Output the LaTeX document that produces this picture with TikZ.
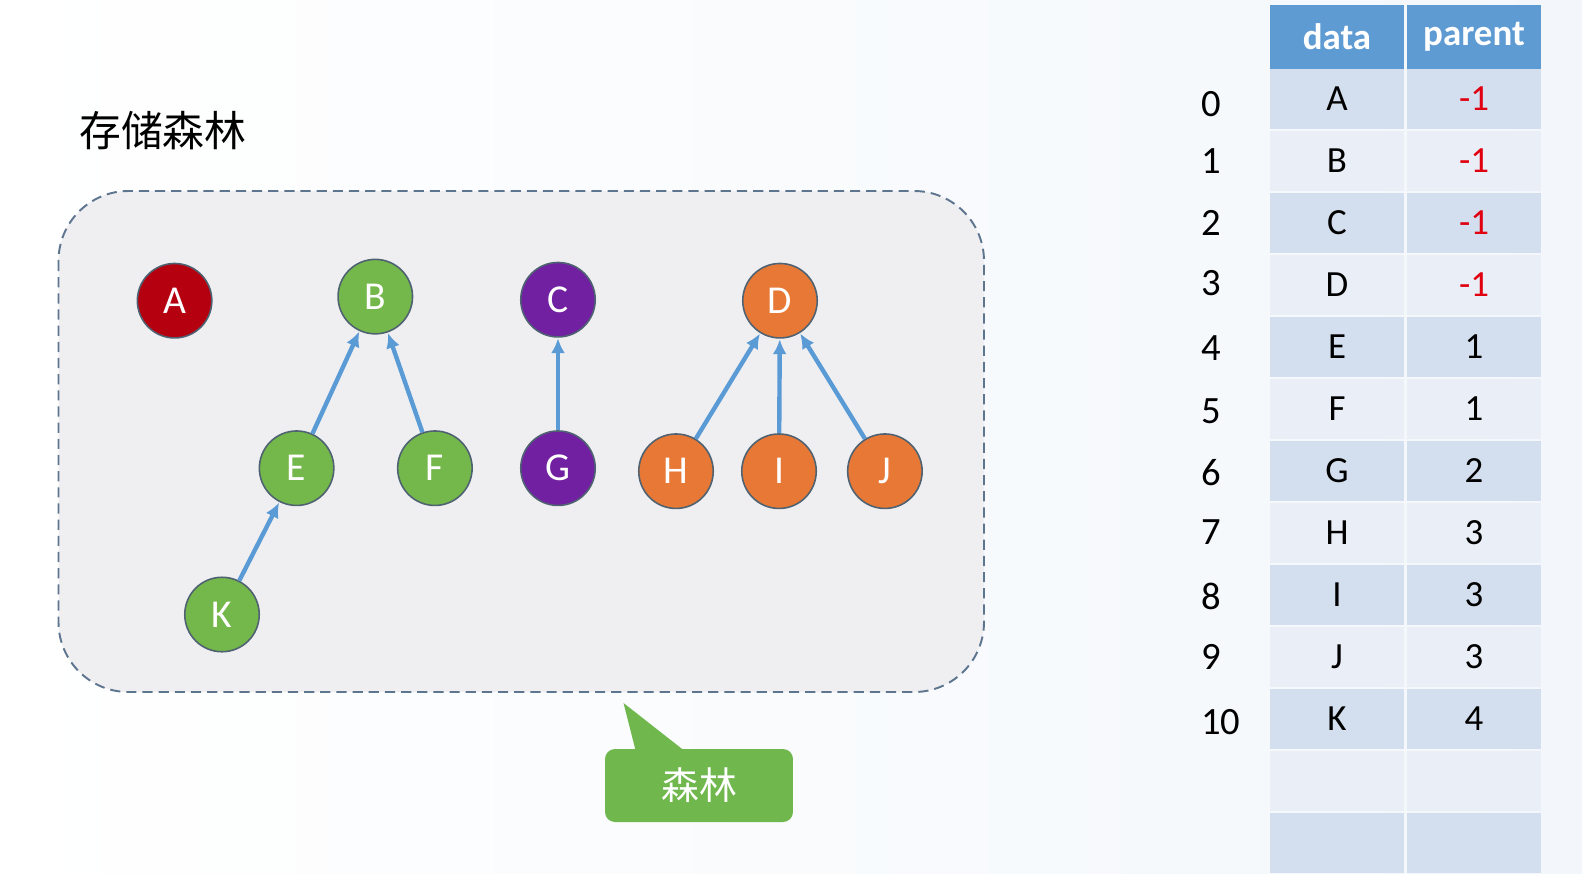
\documentclass[tikz,border=0pt]{standalone}
\usepackage{fontspec}
\setmainfont{Carlito}
\newfontfamily\cjk{Noto Sans CJK SC}
\usetikzlibrary{arrows.meta}
\definecolor{nred}{HTML}{B50010}
\definecolor{ngreen}{HTML}{74B74A}
\definecolor{npurple}{HTML}{7020A0}
\definecolor{norange}{HTML}{E87835}
\definecolor{nborder}{HTML}{4F6272}
\definecolor{arrblue}{HTML}{5B9BD5}
\definecolor{boxfill}{HTML}{EFEFF2}
\definecolor{boxline}{HTML}{5E7590}
\definecolor{hdr}{HTML}{5F9BD3}
\definecolor{rowdark}{HTML}{D3DFEE}
\definecolor{rowlight}{HTML}{EAEFF7}
\definecolor{redtxt}{HTML}{E00010}
\definecolor{callgreen}{HTML}{70B84D}
\definecolor{bgright}{HTML}{F3F7FB}
\tikzset{
  tnode/.style={circle, draw=nborder, line width=0.9pt, minimum size=1.49cm, inner sep=0pt,
    text=white, font=\fontsize{22.5}{24}\selectfont},
  arr/.style={draw=arrblue, line width=2.5pt, -{Latex[length=8.5pt,width=8pt]}, shorten >=0.3pt},
  cell/.style={minimum width=2.68cm, minimum height=1.2cm, inner sep=0pt, font=\fontsize{21}{23}\selectfont},
  hcell/.style={cell, fill=hdr, minimum height=1.28cm, text=white, font=\fontsize{21}{23}\selectfont\bfseries},
  idx/.style={anchor=west, inner sep=0pt, font=\fontsize{22}{24}\selectfont},
}
\begin{document}
\begin{tikzpicture}[x=0.02cm,y=-0.02cm]
\useasboundingbox (0,0) rectangle (1582,873);
\clip (0,0) rectangle (1582,873);
\shade[left color=white, right color=bgright] (0,0) rectangle (1582,873);

% title
\node[anchor=west, inner sep=0pt, font=\cjk\fontsize{23.8}{25}\selectfont] (title) at (79,131) {存储森林};

% forest box
\draw[fill=boxfill, draw=boxline, line width=1.1pt, dash pattern=on 5.8pt off 3.4pt, rounded corners=1.4cm]
  (58.5,191) rectangle (984,692);

% nodes
\node[tnode, fill=nred] (A) at (174.6,300.7) {A};
\node[tnode, fill=ngreen] (B) at (375.3,296.6) {B};
\node[tnode, fill=npurple] (C) at (558,299.7) {C};
\node[tnode, fill=norange] (D) at (780,300.7) {D};
\node[tnode, fill=ngreen] (E) at (296.6,468.2) {E};
\node[tnode, fill=ngreen] (F) at (434.9,468.2) {F};
\node[tnode, fill=npurple] (G) at (558,468.2) {G};
\node[tnode, fill=norange] (H) at (676,471.2) {H};
\node[tnode, fill=norange] (I) at (779,471.2) {I};
\node[tnode, fill=norange] (J) at (884.9,471.2) {J};
\node[tnode, fill=ngreen] (K) at (222,614.5) {K};

\draw[arr] (E) -- (B);
\draw[arr] (F) -- (B);
\draw[arr] (G) -- (C);
\draw[arr] (H) -- (D);
\draw[arr] (I) -- (D);
\draw[arr] (J) -- (D);
\draw[arr] (K) -- (E);

% callout
\fill[callgreen] (636,752) -- (623.5,703) -- (686,752) -- cycle;
\node[fill=callgreen, rounded corners=0.2cm, minimum width=3.76cm, minimum height=1.46cm, inner sep=0pt,
  text=white, font=\cjk\fontsize{21.5}{23}\selectfont] (callout) at (699,785.5) {森林};

% table header
\node[hcell] (hdata) at (1337,37) {data};
\node[hcell] (hparent) at (1474,37) {parent};

% table rows
\foreach \i/\d/\p/\pc/\rc in {0/A/-1/redtxt/rowdark,1/B/-1/redtxt/rowlight,2/C/-1/redtxt/rowdark,
  3/D/-1/redtxt/rowlight,4/E/1/black/rowdark,5/F/1/black/rowlight,6/G/2/black/rowdark,
  7/H/3/black/rowlight,8/I/3/black/rowdark,9/J/3/black/rowlight,10/K/4/black/rowdark,
  11//{}/black/rowlight,12//{}/black/rowdark}{
  \node[cell, fill=\rc] (d\i) at (1337,99+62*\i) {\d};
  \node[cell, fill=\rc, text=\pc] (p\i) at (1474,99+62*\i) {\p};
}

% index numbers
\foreach \i/\y in {0/104,1/161.5,2/223,3/283.5,4/348,5/411,6/473,7/532.5,8/596,9/657,10/722}{
  \node[idx] (n\i) at (1201,\y) {\i};
}
\end{tikzpicture}
\end{document}
